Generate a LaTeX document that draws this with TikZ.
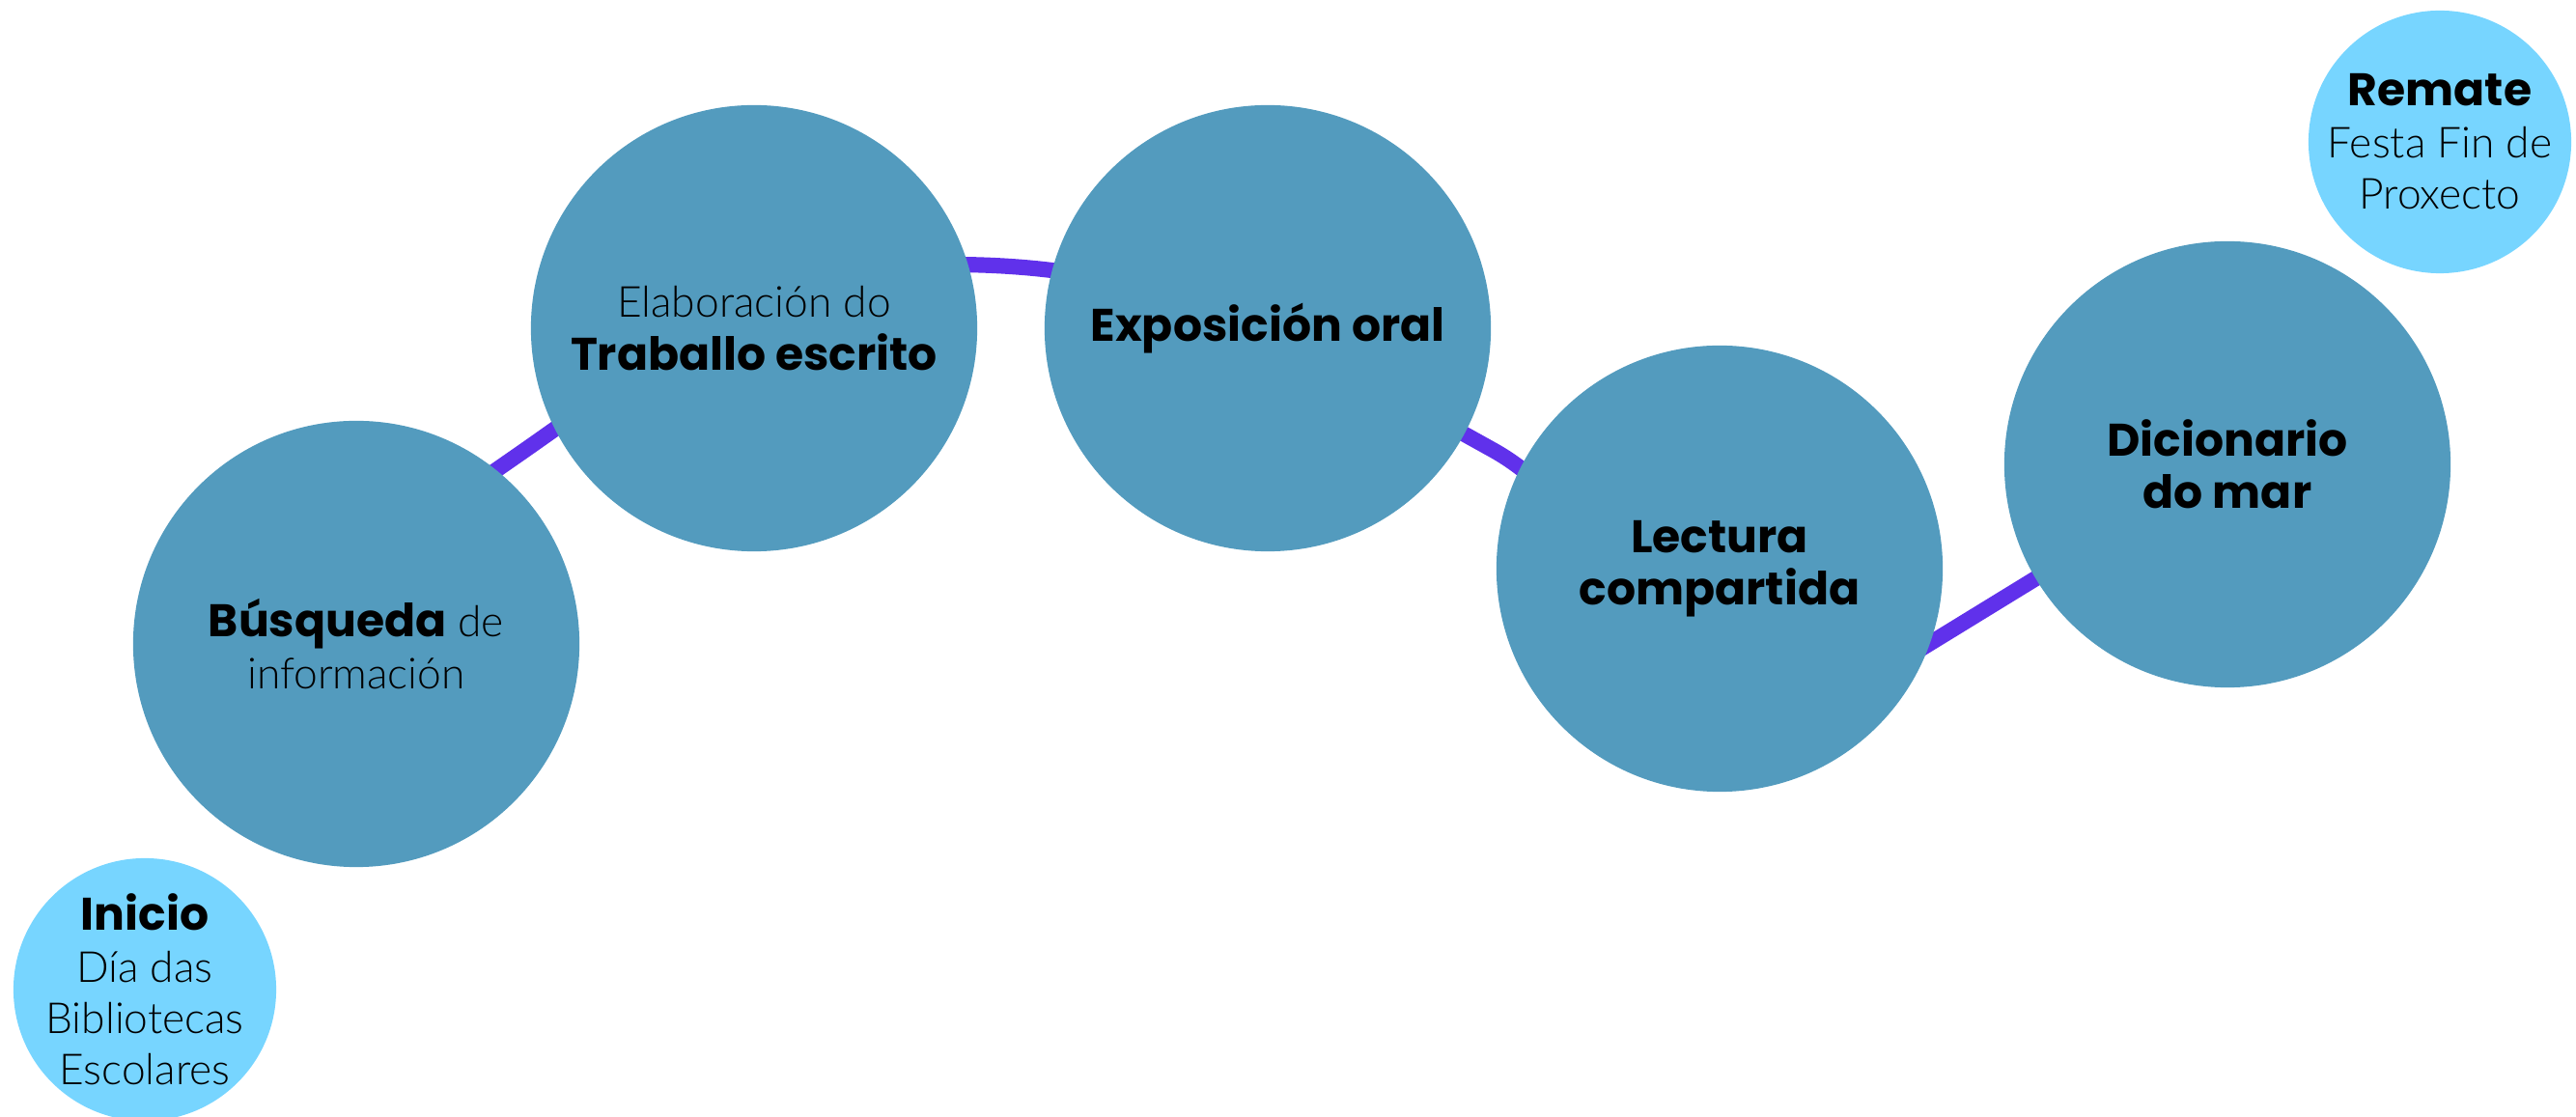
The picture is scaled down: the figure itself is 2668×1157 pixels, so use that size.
\documentclass[tikz,border=0pt]{standalone}
\usepackage{fontspec}
\setmainfont{Lato}[UprightFont=* Light, UprightFeatures={Scale=1.05}, BoldFont=Poppins Bold, BoldFeatures={Scale=1.12}]
\begin{document}
\begin{tikzpicture}[x=0.01cm,y=0.01cm,
  big/.style={circle, fill=stepblue, minimum size=4.62cm, inner sep=0pt, align=center, font=\fontsize{12pt}{15.4pt}\selectfont},
  small/.style={circle, fill=lightblue, minimum size=2.72cm, inner sep=0pt},
  smalltext/.style={align=center, inner sep=0pt, font=\fontsize{12pt}{15.2pt}\selectfont},
  wave/.style={draw=wavepurple, line width=4.6pt}]
\definecolor{stepblue}{RGB}{83,155,190}
\definecolor{lightblue}{RGB}{119,213,255}
\definecolor{wavepurple}{RGB}{96,49,235}
\useasboundingbox (0,0) rectangle (2668,1157);
\clip (0,0) rectangle (2668,1157);
% wave behind the circles
\coordinate (w0) at (429,611);
\coordinate (w1) at (544,691);
\coordinate (w2) at (985,883);
\coordinate (w3) at (1546,691);
\coordinate (w4) at (1900,430);
\coordinate (w5) at (2200,614);
\path[wave] (w0) -- (w1) to[out=35,in=180] (w2) to[out=0,in=151] (w3)
  to[out=-29,in=211.5] (w4) -- (w5);
% circles
\node[small] (inicio) at (150,132) {};
\node[smalltext] (iniciotext) at (inicio.center) {\textbf{Inicio}\\Día das\\Bibliotecas\\Escolares};
\node[big] (busq) at (369,490) {\textbf{Búsqueda} de\\información};
\node[big] (elab) at (781,817) {Elaboración do\\\textbf{Traballo escrito}};
\node[big] (expo) at (1313,817) {\textbf{Exposición oral}};
\node[big] (lect) at (1781,568) {\textbf{Lectura}\\\textbf{compartida}};
\node[big] (dic) at (2307,676) {\textbf{Dicionario}\\\textbf{do mar}};
\node[small] (remate) at (2527,1010) {};
\node[smalltext] (rematetext) at (remate.center) {\textbf{Remate}\\Festa Fin de\\Proxecto};
\end{tikzpicture}
\end{document}
